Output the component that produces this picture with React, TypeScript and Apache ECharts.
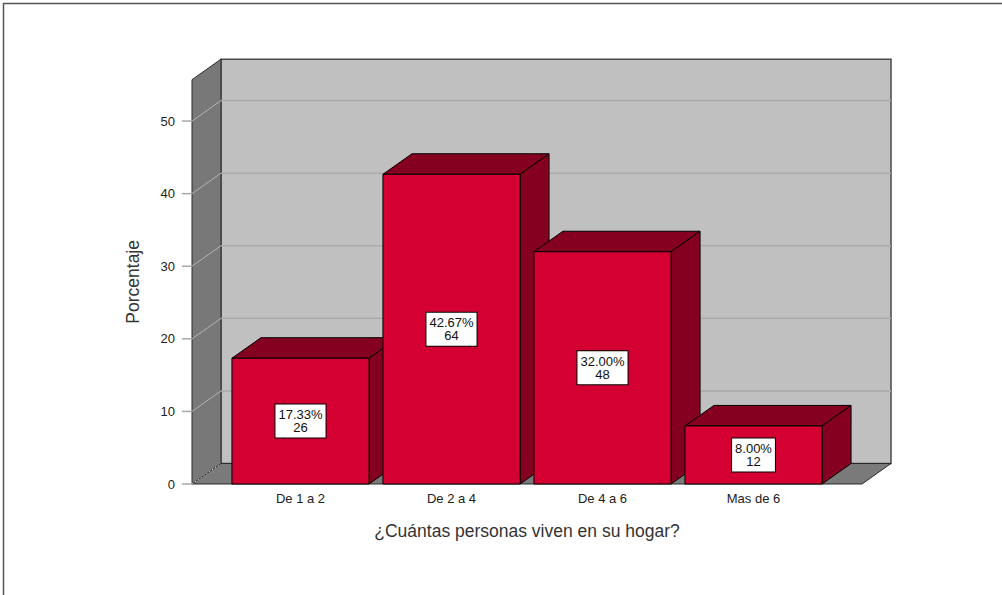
import React, { useEffect, useRef } from "react";
import * as echarts from "echarts";

const categories = ["De 1 a 2", "De 2 a 4", "De 4 a 6", "Mas de 6"];
const percentages = [17.33, 42.67, 32.0, 8.0];
const counts = [26, 64, 48, 12];
const yTicks = [0, 10, 20, 30, 40, 50];
const xTitle = "¿Cuántas personas viven en su hogar?";
const yTitle = "Porcentaje";

const PAD = 33; // floor extends beyond category band
const DX = 29; // 3D depth offset
const DY = -20.5;
const FONT = "Liberation Sans";

export default function App() {
  const ref = useRef<HTMLDivElement>(null);
  useEffect(() => {
    if (!ref.current) return;
    const chart = echarts.init(ref.current, undefined, { renderer: "svg" });

    const wallsRender = (params: any, api: any) => {
      const cs = params.coordSys;
      const fx0 = cs.x - PAD;
      const fx1 = cs.x + cs.width + PAD;
      const fy0 = api.coord([0, 0])[1];
      const fyTop = cs.y;
      const children: any[] = [];
      children.push({
        type: "rect",
        shape: { x: fx0 + DX, y: fyTop + DY, width: fx1 - fx0, height: fy0 - fyTop },
        style: { fill: "#c0c0c0", stroke: "#4a4a4a", lineWidth: 1.5 },
      });
      children.push({
        type: "polygon",
        shape: { points: [[fx0, fy0], [fx0, fyTop], [fx0 + DX, fyTop + DY], [fx0 + DX, fy0 + DY]] },
        style: { fill: "#787878", stroke: "#2a2a2a", lineWidth: 1 },
      });
      children.push({
        type: "polygon",
        shape: { points: [[fx0, fy0], [fx1, fy0], [fx1 + DX, fy0 + DY], [fx0 + DX, fy0 + DY]] },
        style: { fill: "#7a7a7a", stroke: "#2a2a2a", lineWidth: 1 },
      });
      yTicks.forEach((v) => {
        const y = api.coord([0, v])[1];
        children.push({
          type: "line",
          shape: { x1: fx0 - 10, y1: y, x2: fx0, y2: y },
          style: { stroke: "#a8a8a8", lineWidth: 1.5 },
        });
        if (v === 0) {
          children.push({
            type: "line",
            shape: { x1: fx0, y1: y, x2: fx0 + DX, y2: y + DY },
            style: { stroke: "#d0d0d0", lineWidth: 1, lineDash: [1.5, 2] },
          });
        } else {
          children.push({
            type: "line",
            shape: { x1: fx0, y1: y, x2: fx0 + DX, y2: y + DY },
            style: { stroke: "#b4b4b4", lineWidth: 1 },
          });
          children.push({
            type: "line",
            shape: { x1: fx0 + DX, y1: y + DY, x2: fx1 + DX, y2: y + DY },
            style: { stroke: "#a9a9a9", lineWidth: 1.5 },
          });
        }
      });
      return { type: "group", children };
    };

    const barsRender = (params: any, api: any) => {
      const idx = api.value(0);
      const val = api.value(1);
      const cnt = api.value(2);
      const base = api.coord([idx, 0]);
      const top = api.coord([idx, val]);
      const bw = api.size([1, 0])[0] * 0.908;
      const x0 = base[0] - bw / 2;
      const x1 = base[0] + bw / 2;
      const ty = top[1];
      const by = base[1];
      const front = "#d50032";
      const dark = "#850020";
      return {
        type: "group",
        children: [
          {
            type: "polygon",
            shape: { points: [[x0, ty], [x1, ty], [x1 + DX, ty + DY], [x0 + DX, ty + DY]] },
            style: { fill: dark, stroke: "#000", lineWidth: 1 },
          },
          {
            type: "polygon",
            shape: { points: [[x1, ty], [x1, by], [x1 + DX, by + DY], [x1 + DX, ty + DY]] },
            style: { fill: dark, stroke: "#000", lineWidth: 1 },
          },
          {
            type: "rect",
            shape: { x: x0, y: ty, width: bw, height: by - ty },
            style: { fill: front, stroke: "#000", lineWidth: 1 },
          },
          {
            type: "text",
            x: base[0],
            y: (ty + by) / 2,
            style: {
              text: `${Number(val).toFixed(2)}%\n${cnt}`,
              fill: "#111",
              fontSize: 13,
              fontFamily: FONT,
              lineHeight: 13,
              align: "center",
              verticalAlign: "middle",
              backgroundColor: "#fff",
              borderColor: "#000",
              borderWidth: 1,
              padding: [4, 3, 3, 3],
            },
          },
        ],
      };
    };

    chart.setOption({
      animation: false,
      backgroundColor: "#fff",
      textStyle: { fontFamily: FONT },
      grid: { left: 225, right: 173, top: 79.7, bottom: 111 },
      xAxis: {
        type: "category",
        data: categories,
        axisLine: { show: false },
        axisTick: { show: false },
        axisLabel: { fontSize: 13, color: "#222", margin: 8, fontFamily: FONT },
        name: xTitle,
        nameLocation: "middle",
        nameGap: 38,
        nameTextStyle: { fontSize: 17.5, color: "#333", fontFamily: FONT },
      },
      yAxis: {
        type: "value",
        min: 0,
        max: 55.7,
        interval: 10,
        offset: PAD,
        axisLine: { show: false },
        axisTick: { show: false },
        splitLine: { show: false },
        axisLabel: {
          fontSize: 13,
          color: "#222",
          margin: 17,
          fontFamily: FONT,
          formatter: (v: number) => (yTicks.includes(v) ? String(v) : ""),
        },
        name: yTitle,
        nameLocation: "middle",
        nameGap: 50,
        nameTextStyle: { fontSize: 17.5, color: "#333", fontFamily: FONT },
      },
      graphic: [
        { type: "line", shape: { x1: 3, y1: 3.5, x2: 1002, y2: 3.5 }, style: { stroke: "#555", lineWidth: 1.5 } },
        { type: "line", shape: { x1: 3.5, y1: 3, x2: 3.5, y2: 595 }, style: { stroke: "#555", lineWidth: 1.5 } },
      ],
      series: [
        {
          type: "custom",
          name: "walls",
          z: 1,
          data: [[0]],
          renderItem: wallsRender,
          silent: true,
        },
        {
          type: "custom",
          name: "bars",
          z: 2,
          data: percentages.map((p, i) => [i, p, counts[i]]),
          renderItem: barsRender,
        },
      ],
    });
    return () => chart.dispose();
  }, []);
  return (
    <div
      ref={ref}
      style={{ position: "fixed", left: 0, top: 0, width: 1002, height: 595 }}
    />
  );
}
